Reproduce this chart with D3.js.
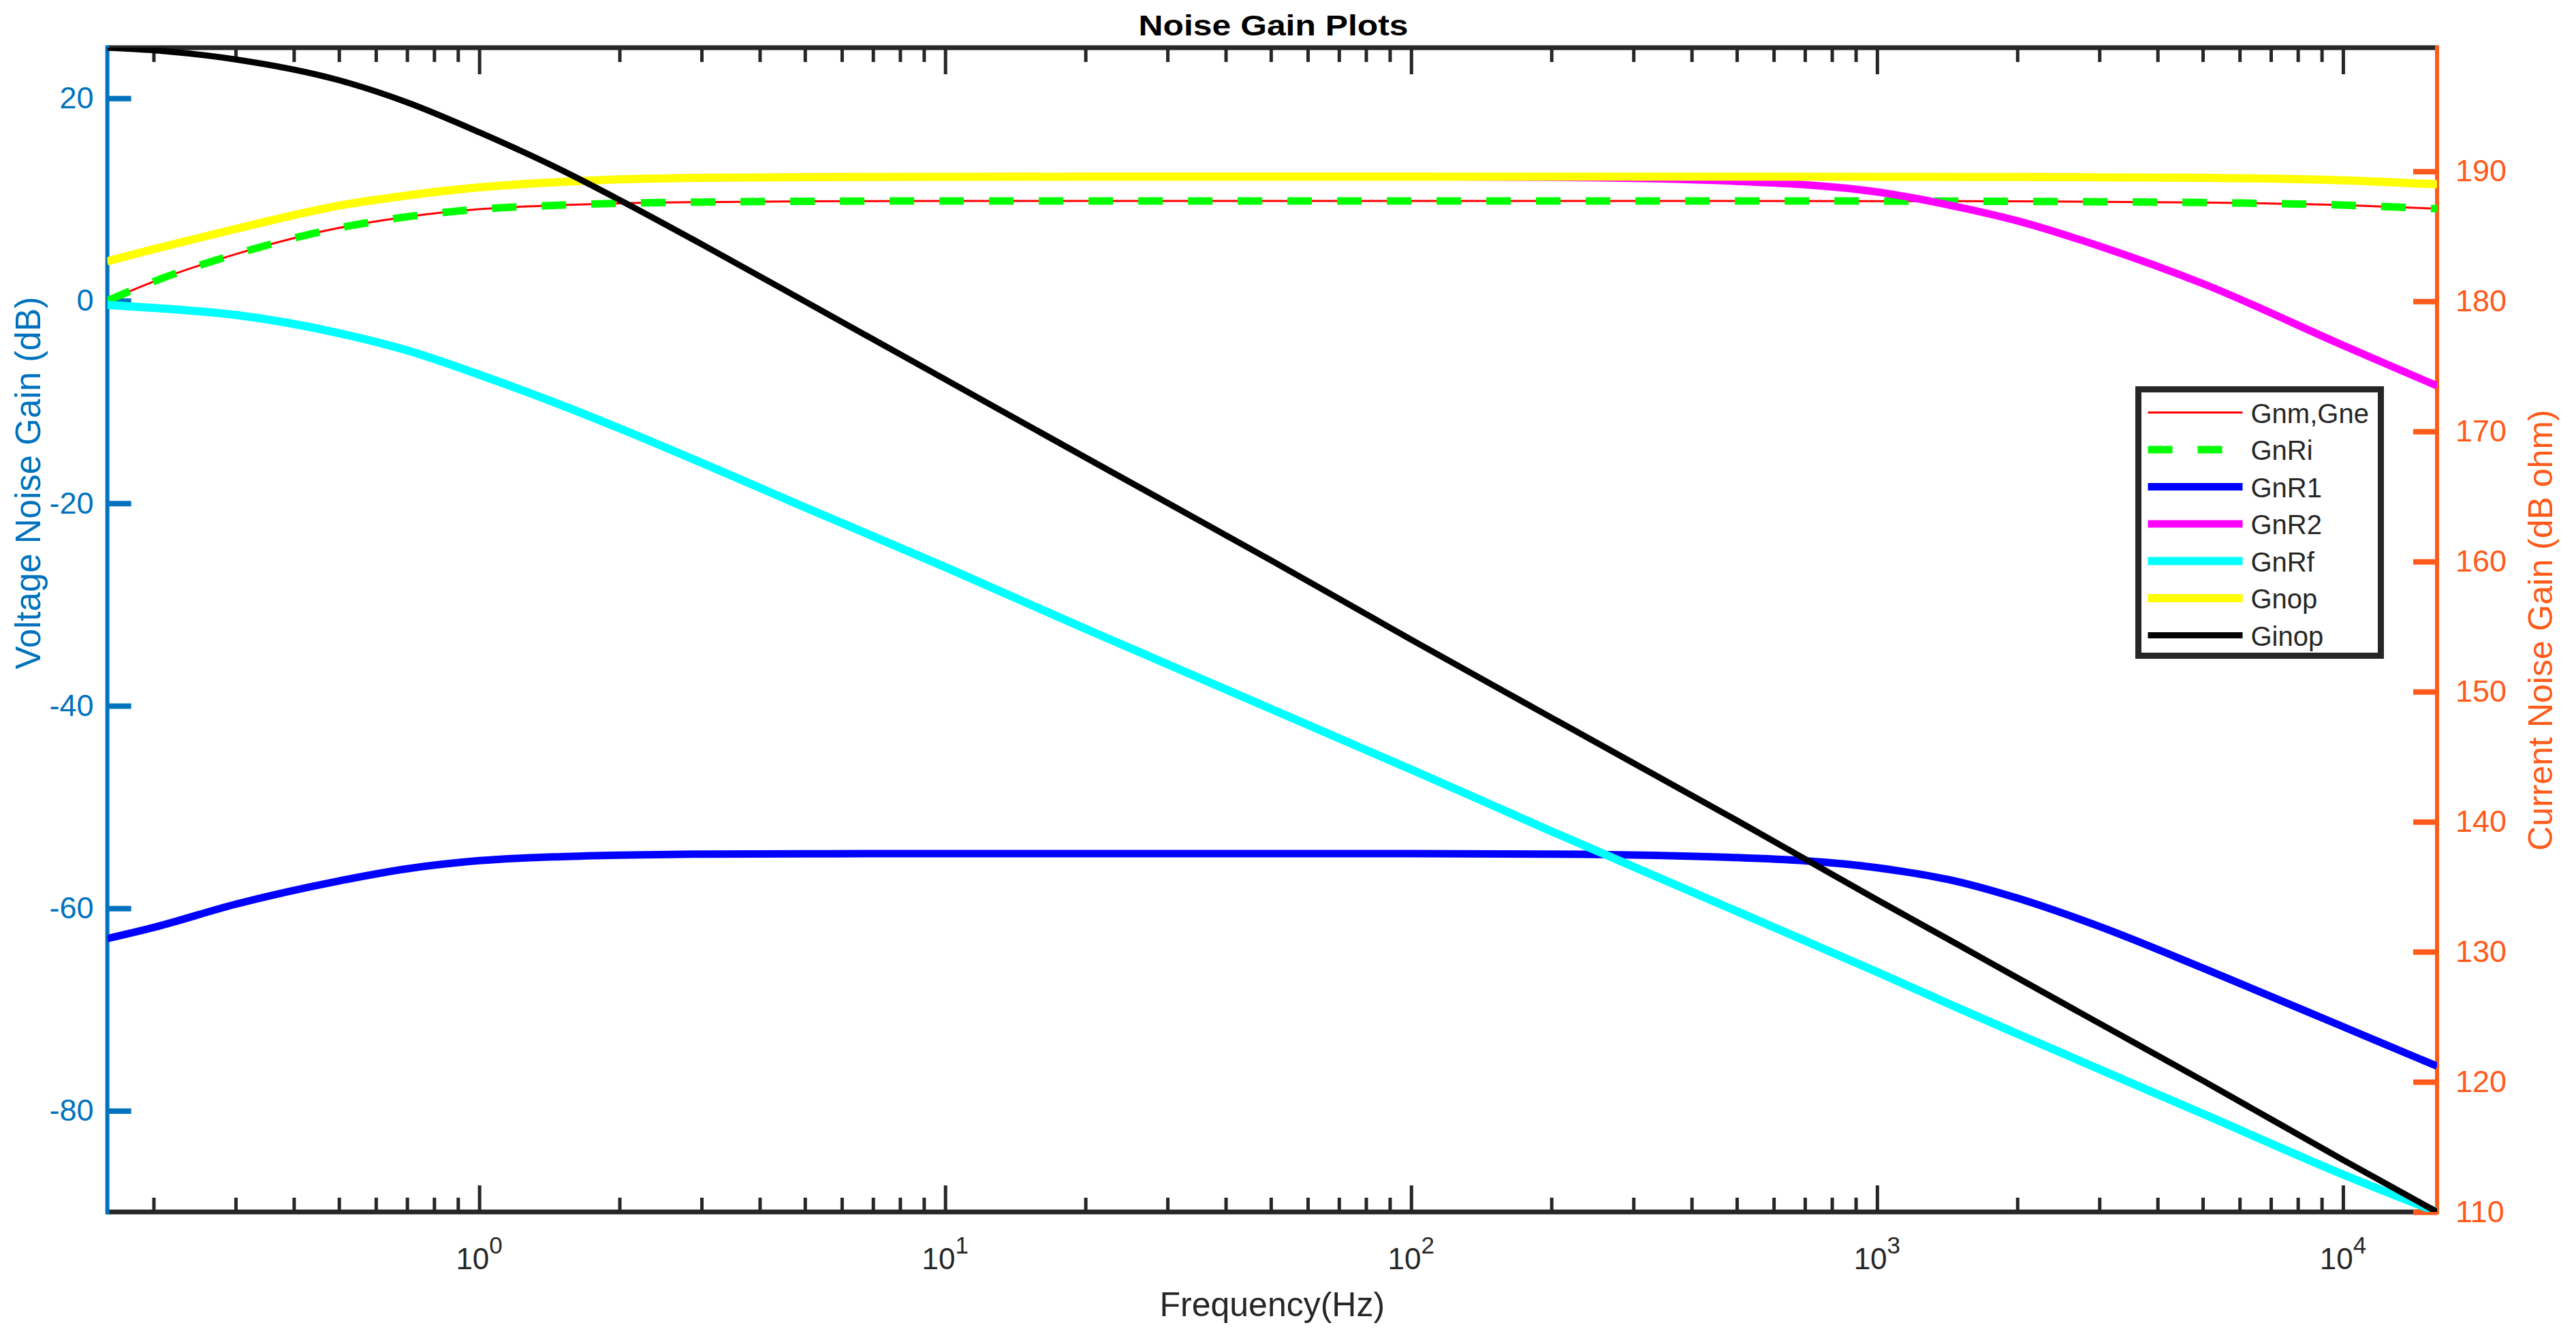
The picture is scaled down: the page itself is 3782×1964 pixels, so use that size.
<!DOCTYPE html>
<html lang="en">
<head>
<meta charset="UTF-8" />
<title>Noise Gain Plots</title>
<script src="https://d3js.org/d3.v7.min.js"></script>
<style>
  body { margin: 0; background: #fff; }
  svg { display: block; }
  text { font-family: "Liberation Sans", Arial, Helvetica, sans-serif; }
</style>
</head>
<body>
<div id="chart"></div>
<script>
// frequency points (Hz) the curves were read at
const freqHz = [0.159, 0.2, 0.3, 0.5, 0.7, 1, 1.5, 2, 3, 5, 10, 20, 50, 100, 200, 500, 1000, 1500, 2000, 3000, 5000, 10000, 15915];

// voltage noise gains (dB), left axis
const gnmGne = [0.0, 1.9, 4.6, 7.2, 8.3, 9.05, 9.45, 9.63, 9.75, 9.83, 9.86, 9.86, 9.86, 9.86, 9.86, 9.86, 9.85, 9.84, 9.82, 9.78, 9.7, 9.45, 9.1];
const gnRi   = [0.0, 1.9, 4.6, 7.2, 8.3, 9.05, 9.45, 9.63, 9.75, 9.83, 9.86, 9.86, 9.86, 9.86, 9.86, 9.86, 9.85, 9.84, 9.82, 9.78, 9.7, 9.45, 9.1];
const gnR1   = [-63.0, -61.9, -59.6, -57.3, -56.1, -55.3, -54.9, -54.75, -54.65, -54.62, -54.6, -54.6, -54.6, -54.6, -54.65, -55.0, -56.0, -57.4, -59.0, -61.8, -65.9, -71.7, -75.6];
const gnR2   = [3.9, 5.1, 7.1, 9.4, 10.4, 11.2, 11.75, 12.0, 12.15, 12.22, 12.25, 12.26, 12.26, 12.26, 12.2, 11.8, 10.75, 9.25, 7.9, 5.4, 1.7, -4.4, -8.4];
const gnRf   = [-0.4, -0.7, -1.4, -3.2, -4.9, -7.3, -10.3, -12.6, -16.0, -20.4, -26.3, -32.4, -40.3, -46.3, -52.4, -60.3, -66.3, -69.9, -72.4, -75.9, -80.3, -86.3, -90.0];
const gnop   = [3.9, 5.1, 7.1, 9.4, 10.4, 11.2, 11.75, 12.0, 12.15, 12.22, 12.25, 12.26, 12.26, 12.26, 12.26, 12.26, 12.25, 12.24, 12.23, 12.2, 12.15, 11.9, 11.5];

// current noise gain (dB ohm), right axis
const ginop  = [199.5, 199.3, 198.6, 197.0, 195.3, 193.0, 190.1, 187.8, 184.4, 180.0, 174.0, 168.0, 160.1, 154.0, 148.0, 140.1, 134.0, 130.5, 128.0, 124.5, 120.1, 114.0, 110.0];

const seriesNames = ["Gnm,Gne", "GnRi", "GnR1", "GnR2", "GnRf", "Gnop", "Ginop"];
const leftTicks = [-80, -60, -40, -20, 0, 20];
const rightTicks = [110, 120, 130, 140, 150, 160, 170, 180, 190];
const decadeTicks = [1, 10, 100, 1000, 10000];
const decadeExps = ["0", "1", "2", "3", "4"];

const leftColor = "#0072BD", rightColor = "#FF5A1A", axisColor = "#262626";

const W = 3782, H = 1964;
const margin = {top: 70, right: 204, bottom: 185, left: 157.6},
    width = W - margin.left - margin.right,
    height = H - margin.top - margin.bottom;

const svg = d3.select("#chart")
    .append("svg")
    .attr("width", W)
    .attr("height", H)
    .append("g")
    .attr("transform", `translate(${margin.left},${margin.top})`);

const x = d3.scaleLog().domain([0.159155, 15915.5]).range([0, width]);
const yL = d3.scaleLinear().domain([-90, 25]).range([height, 0]);
const yR = d3.scaleLinear().domain([110, 199.5]).range([height, 0]);

// minor ticks 2..9 per decade inside the domain
const minorTicks = [];
for (let e = -1; e <= 4; e++) {
    for (let m = 2; m <= 9; m++) {
        const v = m * Math.pow(10, e);
        if (v > 0.16 && v < 15900) minorTicks.push(v);
    }
}

function styleTicks(sel, color, w) {
    sel.select(".domain").remove();
    sel.selectAll(".tick line").attr("stroke", color).attr("stroke-width", w);
}

// x ticks, bottom and top, pointing inward
svg.append("g").attr("transform", `translate(0,${height})`)
    .call(d3.axisBottom(x).tickValues(minorTicks).tickSize(-21).tickFormat(""))
    .call(styleTicks, axisColor, 5);
svg.append("g").attr("transform", `translate(0,${height})`)
    .call(d3.axisBottom(x).tickValues(decadeTicks).tickSize(-39).tickFormat(""))
    .call(styleTicks, axisColor, 5);
svg.append("g")
    .call(d3.axisTop(x).tickValues(minorTicks).tickSize(-21).tickFormat(""))
    .call(styleTicks, axisColor, 5);
svg.append("g")
    .call(d3.axisTop(x).tickValues(decadeTicks).tickSize(-39).tickFormat(""))
    .call(styleTicks, axisColor, 5);

// box lines
svg.append("line").attr("x1", 0).attr("x2", width).attr("y1", 0).attr("y2", 0)
    .attr("stroke", axisColor).attr("stroke-width", 7);
svg.append("line").attr("x1", 0).attr("x2", width).attr("y1", height).attr("y2", height)
    .attr("stroke", axisColor).attr("stroke-width", 7);

// left axis
const gL = svg.append("g")
    .call(d3.axisLeft(yL).tickValues(leftTicks).tickSize(-35).tickPadding(20).tickFormat(d => String(d)))
    .call(styleTicks, leftColor, 8);
gL.selectAll("text").attr("fill", leftColor).attr("font-size", 45);
svg.append("line").attr("x1", 0).attr("x2", 0).attr("y1", -3.5).attr("y2", height + 3.5)
    .attr("stroke", leftColor).attr("stroke-width", 6);

// right axis
const gR = svg.append("g").attr("transform", `translate(${width},0)`)
    .call(d3.axisRight(yR).tickValues(rightTicks).tickSize(-35).tickPadding(27).tickFormat(d => String(d)))
    .call(styleTicks, rightColor, 8);
gR.selectAll("text").attr("fill", rightColor).attr("font-size", 45);
svg.append("line").attr("x1", width).attr("x2", width).attr("y1", -3.5).attr("y2", height + 3.5)
    .attr("stroke", rightColor).attr("stroke-width", 6);

// decade labels 10^n
const xl = svg.append("g").selectAll("text")
    .data(decadeTicks)
    .join("text")
    .attr("x", d => x(d))
    .attr("y", height + 84)
    .attr("text-anchor", "middle")
    .attr("font-size", 44)
    .attr("fill", axisColor);
xl.append("tspan").text("10");
xl.append("tspan").attr("dy", -23).attr("font-size", 35).text((d, i) => decadeExps[i]);

// titles
svg.append("text")
    .attr("x", 1712).attr("y", -18)
    .attr("text-anchor", "middle")
    .attr("font-size", 43).attr("font-weight", "bold")
    .attr("textLength", 396).attr("lengthAdjust", "spacingAndGlyphs")
    .text("Noise Gain Plots");
svg.append("text")
    .attr("x", width / 2).attr("y", height + 153)
    .attr("text-anchor", "middle")
    .attr("font-size", 50).attr("fill", axisColor)
    .text("Frequency(Hz)");
svg.append("text")
    .attr("transform", `translate(${59 - margin.left},${709 - margin.top}) rotate(-90)`)
    .attr("text-anchor", "middle")
    .attr("font-size", 51).attr("fill", leftColor)
    .text("Voltage Noise Gain (dB)");
svg.append("text")
    .attr("transform", `translate(${3747 - margin.left},${925 - margin.top}) rotate(-90)`)
    .attr("text-anchor", "middle")
    .attr("font-size", 50).attr("fill", rightColor)
    .text("Current Noise Gain (dB ohm)");

// curves
svg.append("clipPath").attr("id", "plotclip")
    .append("rect").attr("x", 0).attr("y", 0).attr("width", width).attr("height", height);

const series = [
    {values: gnmGne, y: yL, color: "#FF0000", w: 3, dash: null},
    {values: gnRi,   y: yL, color: "#00FF00", w: 11, dash: "36,37"},
    {values: gnR1,   y: yL, color: "#0000FF", w: 11, dash: null},
    {values: gnR2,   y: yL, color: "#FF00FF", w: 11, dash: null},
    {values: gnRf,   y: yL, color: "#00FFFF", w: 12, dash: null},
    {values: gnop,   y: yL, color: "#FFFF00", w: 12, dash: null},
    {values: ginop,  y: yR, color: "#000000", w: 9, dash: null}
];

const plot = svg.append("g").attr("clip-path", "url(#plotclip)");
series.forEach(s => {
    const line = d3.line()
        .x((d, i) => x(freqHz[i]))
        .y(d => s.y(d))
        .curve(d3.curveMonotoneX);
    plot.append("path")
        .datum(s.values)
        .attr("fill", "none")
        .attr("stroke", s.color)
        .attr("stroke-width", s.w)
        .attr("stroke-dasharray", s.dash)
        .attr("d", line);
});

// legend
const lg = svg.append("g").attr("transform", `translate(${3139.5 - margin.left},${571.5 - margin.top})`);
lg.append("rect").attr("width", 356).attr("height", 391)
    .attr("fill", "#fff").attr("stroke", axisColor).attr("stroke-width", 9);
const rows = lg.selectAll("g.row")
    .data(series)
    .join("g")
    .attr("class", "row")
    .attr("transform", (d, i) => `translate(0,${34 + i * 54.5})`);
rows.append("line")
    .attr("x1", 14).attr("x2", 153).attr("y1", 0).attr("y2", 0)
    .attr("stroke", d => d.color)
    .attr("stroke-width", d => d.w)
    .attr("stroke-dasharray", d => d.dash);
rows.append("text")
    .attr("x", 165).attr("y", 15)
    .attr("font-size", 40).attr("fill", axisColor)
    .text((d, i) => seriesNames[i]);
</script>
</body>
</html>
